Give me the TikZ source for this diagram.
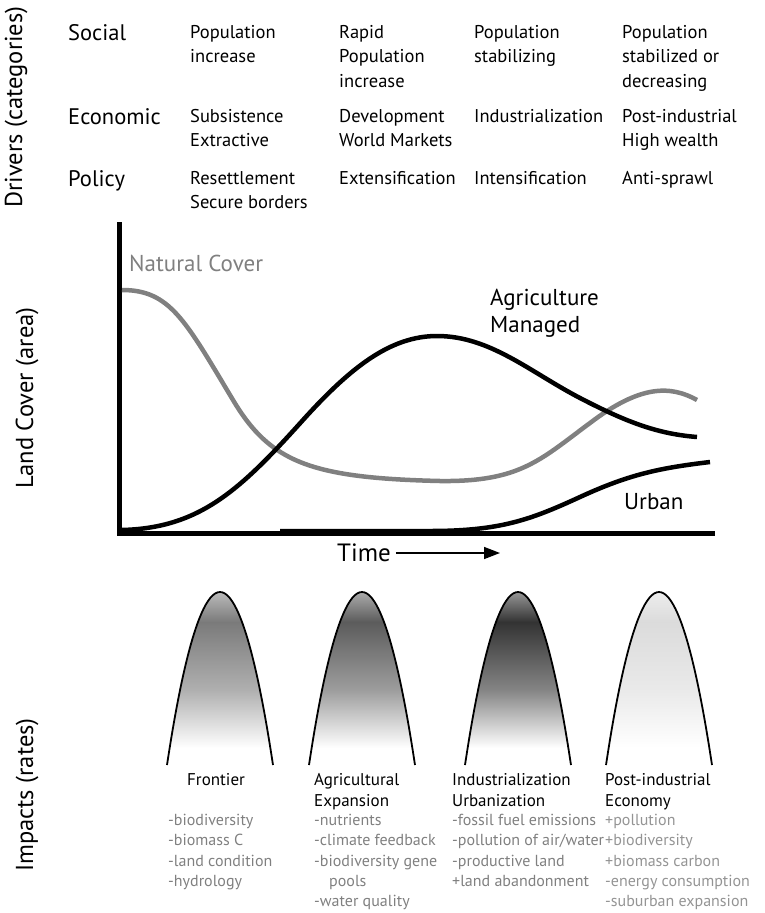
\documentclass[tikz,border=0pt]{standalone}
\usepackage{fontspec}
\setmainfont{PT Sans}
\usetikzlibrary{arrows.meta}

\begin{document}
\begin{tikzpicture}[x=1pt,y=-1pt,
  every node/.style={inner sep=0pt},
  axis/.style={line width=5pt},
  curve/.style={line width=4.5pt},
  bell/.style={line width=1.8pt},
  side/.style={font=\fontsize{24.5}{24.5}\selectfont,rotate=90},
  rowlab/.style={font=\fontsize{22.5}{22.5}\selectfont,anchor=north west},
  cell/.style={font=\fontsize{18.5}{24.5}\selectfont,align=left,anchor=north west},
  label/.style={font=\fontsize{23}{27}\selectfont,align=left,anchor=west},
  stage/.style={font=\fontsize{17}{21}\selectfont,align=left,anchor=north west},
  effect/.style={font=\fontsize{16}{20.3}\selectfont,align=left,anchor=north west,text=black!50}]
\useasboundingbox (0,0) rectangle (765,913);

% side titles
\path
  node[side] (drivers) at (16,107) {Drivers (categories)}
  node[side] (cover) at (27,398) {Land Cover (area)}
  node[side] (impacts) at (27,795) {Impacts (rates)};

% drivers table
\path
  node[rowlab] (social) at (68,24) {Social}
  node[rowlab] (econ) at (68,108) {Economic}
  node[rowlab] (policy) at (68,170) {Policy}
  node[cell] (s1) at (190,25) {Population\\increase}
  node[cell] (s2) at (339,25) {Rapid\\Population\\increase}
  node[cell] (s3) at (474,25) {Population\\stabilizing}
  node[cell] (s4) at (622,25) {Population\\stabilized or\\decreasing}
  node[cell] (e1) at (190,109) {Subsistence\\Extractive}
  node[cell] (e2) at (339,109) {Development\\World Markets}
  node[cell] (e3) at (474,109) {Industrialization}
  node[cell] (e4) at (622,109) {Post-industrial\\High wealth}
  node[cell] (p1) at (190,171) {Resettlement\\Secure borders}
  node[cell] (p2) at (339,171) {Extensification}
  node[cell] (p3) at (474,171) {Intensification}
  node[cell] (p4) at (622,171) {Anti-sprawl};

% land cover curves
\draw[axis] (119,222) -- (119,533) -- (715,533);
\draw[curve,black!50] (122,290) .. controls (170,290) and (185,320) .. (233,400)
  .. controls (270,462) and (310,478) .. (440,481)
  .. controls (520,482) and (540,460) .. (590,423)
  .. controls (640,385) and (670,385) .. (697,400);
\draw[curve] (122,530) .. controls (200,528) and (240,490) .. (303,420)
  .. controls (350,368) and (390,336) .. (437,336)
  .. controls (490,336) and (530,372) .. (580,398)
  .. controls (630,424) and (660,434) .. (697,437);
\draw[curve] (280,531) -- (430,531) .. controls (500,531) and (530,520) .. (580,497)
  .. controls (630,474) and (660,468) .. (710,462);
\path
  node[label,text=black!50] (natural) at (129,263) {Natural Cover}
  node[label] (agri) at (490,313) {Agriculture\\Managed}
  node[label] (urban) at (624,502) {Urban}
  node[label,font=\fontsize{25}{25}\selectfont] (time) at (337,553) {Time};
\coordinate (tend) at (500,553);
\draw[line width=1.5pt,-{Triangle[length=16pt,width=12pt]}] ([xshift=5pt]time.east) -- (tend);

% impact bells
\foreach \cx/\dk [evaluate=\dk as \lt using \dk*0.45, evaluate=\dk as \md using \dk*0.6] in {220/52,362/64,518/80,659/14}{
  \begin{scope}
    \clip (\cx-53,765) parabola bend (\cx,592) (\cx+53,765) -- cycle;
    \shade[top color=black!\lt,bottom color=black!\dk] (\cx-60,588) rectangle (\cx+60,622);
    \shade[top color=black!\dk,bottom color=black!\md] (\cx-60,622) rectangle (\cx+60,690);
    \shade[top color=black!\md,bottom color=white] (\cx-60,690) rectangle (\cx+60,748);
  \end{scope}
  \draw[bell] (\cx-53,765) parabola bend (\cx,592) (\cx+53,765);
}

% stage names and effects
\path
  node[stage] (frontier) at (187,773) {Frontier}
  node[stage] (agexp) at (314,773) {Agricultural\\Expansion}
  node[stage] (indus) at (452,773) {Industrialization\\Urbanization}
  node[stage] (postind) at (605,773) {Post-industrial\\Economy}
  node[effect] (fx) at (168,814) {-biodiversity\\-biomass C\\-land condition\\-hydrology}
  node[effect] (ax) at (314,814) {-nutrients\\-climate feedback\\-biodiversity gene\\\hspace{15pt}pools\\-water quality}
  node[effect] (ix) at (452,814) {-fossil fuel emissions\\-pollution of air/water\\-productive land\\+land abandonment}
  node[effect,text=black!42] (px) at (605,814) {+pollution\\+biodiversity\\+biomass carbon\\-energy consumption\\-suburban expansion};
\end{tikzpicture}
\end{document}
